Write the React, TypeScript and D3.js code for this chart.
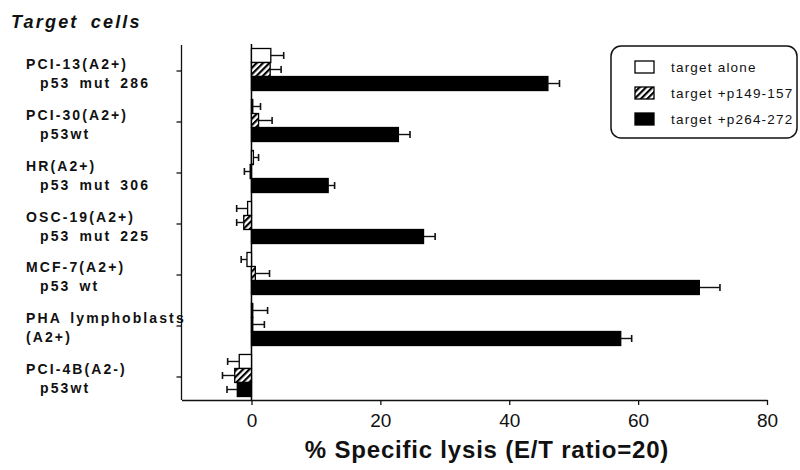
import React, { useEffect, useRef } from 'react';
import * as d3 from 'd3';

// target cell lines (two-line labels)
const cellLines = ['PCI-13(A2+)', 'PCI-30(A2+)', 'HR(A2+)', 'OSC-19(A2+)', 'MCF-7(A2+)', 'PHA lymphoblasts', 'PCI-4B(A2-)'];
const cellSubs = ['p53 mut 286', 'p53wt', 'p53 mut 306', 'p53 mut 225', 'p53 wt', '(A2+)', 'p53wt'];

const seriesNames = ['target alone', 'target +p149-157', 'target +p264-272'];

// % specific lysis, one array per series
const aloneVals = [3.0, 0.2, 0.3, -0.6, -0.7, 0.2, -1.9];
const aloneErr = [2.0, 1.2, 0.8, 1.7, 0.9, 2.3, 1.8];
const p149Vals = [2.9, 1.1, -0.2, -1.2, 0.6, 0.2, -2.6];
const p149Err = [1.7, 2.1, 0.9, 1.1, 2.2, 1.8, 1.9];
const p264Vals = [46.0, 22.8, 11.9, 26.7, 69.5, 57.3, -2.2];
const p264Err = [1.8, 1.8, 1.0, 1.8, 3.2, 1.7, 1.6];

const xTicks = [0, 20, 40, 60, 80];

const FONT = '"Liberation Sans", Arial, Helvetica, sans-serif';

const App = () => {
  const svgRef = useRef<SVGSVGElement>(null);

  useEffect(() => {
    const svg = d3.select(svgRef.current);
    const width = 800;
    const height = 470;
    svg.selectAll('*').remove();
    svg.attr('width', width).attr('height', height);

    const vals = [aloneVals, p149Vals, p264Vals];
    const errs = [aloneErr, p149Err, p264Err];
    const fills = ['#fff', 'url(#hatch)', '#000'];

    // hatch pattern
    const defs = svg.append('defs');
    const pat = defs
      .append('pattern')
      .attr('id', 'hatch')
      .attr('patternUnits', 'userSpaceOnUse')
      .attr('width', 4.5)
      .attr('height', 4.5)
      .attr('patternTransform', 'rotate(45)');
    pat.append('rect').attr('width', 4.5).attr('height', 4.5).attr('fill', '#fff');
    pat.append('line').attr('x1', 1).attr('x2', 1).attr('y1', 0).attr('y2', 4.5)
      .attr('stroke', '#000').attr('stroke-width', 2.3);

    const x = d3.scaleLinear().domain([-10.86, 80]).range([181.5, 767]);
    const y = d3.scaleBand<number>()
      .domain(d3.range(cellLines.length))
      .range([48.5, 396.5])
      .paddingInner(0.176)
      .paddingOuter(0);
    const inner = d3.scaleBand<number>().domain([0, 1, 2]).range([0, y.bandwidth()]);

    // bottom axis
    const xAxis = d3.axisBottom(x).tickValues(xTicks).tickSize(5).tickSizeOuter(0).tickPadding(9)
      .tickFormat((d) => String(d));
    const gx = svg.append('g').attr('transform', 'translate(0,400)').call(xAxis);
    gx.select('.domain').attr('stroke', '#111').attr('stroke-width', 1.3);
    gx.selectAll('.tick line').attr('stroke', '#111').attr('stroke-width', 1.3);
    gx.selectAll('.tick text')
      .attr('font-family', FONT)
      .attr('font-size', 19)
      .attr('fill', '#111');

    // left axis
    const yAxis = d3.axisLeft(y).tickSize(5).tickFormat(() => '');
    const gy = svg.append('g').attr('transform', 'translate(181.5,1.5)').call(yAxis);
    gy.select('.domain').remove();
    gy.selectAll('.tick line').attr('stroke', '#111').attr('stroke-width', 1.3);
    svg.append('line')
      .attr('x1', 181.5).attr('x2', 181.5).attr('y1', 45).attr('y2', 400)
      .attr('stroke', '#111').attr('stroke-width', 1.3);

    // zero line
    svg.append('line')
      .attr('x1', x(0)).attr('x2', x(0)).attr('y1', 44).attr('y2', 400)
      .attr('stroke', '#000').attr('stroke-width', 1.5);

    // bars + error bars
    const barsG = svg.append('g');
    cellLines.forEach((_, i) => {
      vals.forEach((series, s) => {
        const v = series[i];
        const e = errs[s][i];
        const y0 = (y(i) as number) + (inner(s) as number);
        const h = inner.bandwidth();
        barsG.append('rect')
          .attr('x', x(Math.min(0, v)))
          .attr('y', y0)
          .attr('width', Math.abs(x(v) - x(0)))
          .attr('height', h)
          .attr('fill', fills[s])
          .attr('stroke', '#000')
          .attr('stroke-width', 1.3);
        const end = v >= 0 ? v + e : v - e;
        const cy = y0 + h / 2;
        barsG.append('line')
          .attr('x1', x(v)).attr('x2', x(end)).attr('y1', cy).attr('y2', cy)
          .attr('stroke', '#111').attr('stroke-width', 1.4);
        barsG.append('line')
          .attr('x1', x(end)).attr('x2', x(end)).attr('y1', cy - 3.5).attr('y2', cy + 3.5)
          .attr('stroke', '#111').attr('stroke-width', 1.6);
      });
    });

    // category labels
    const labG = svg.append('g')
      .attr('font-family', FONT)
      .attr('font-weight', 'bold')
      .attr('font-size', 14)
      .attr('letter-spacing', 2.1)
      .attr('word-spacing', 3)
      .attr('fill', '#111');
    cellLines.forEach((name, i) => {
      const c = (y(i) as number) + y.bandwidth() / 2;
      labG.append('text').attr('x', 26).attr('y', c - 1).text(name);
      const sub = cellSubs[i];
      labG.append('text')
        .attr('x', sub.startsWith('(') ? 26 : 40)
        .attr('y', c + 18)
        .text(sub);
    });

    // title
    svg.append('text')
      .attr('x', 11).attr('y', 28)
      .attr('font-family', FONT)
      .attr('font-weight', 'bold')
      .attr('font-style', 'italic')
      .attr('font-size', 18)
      .attr('letter-spacing', 2.2)
      .attr('word-spacing', 5)
      .attr('fill', '#111')
      .text('Target cells');

    // x axis title
    svg.append('text')
      .attr('x', 487).attr('y', 458)
      .attr('text-anchor', 'middle')
      .attr('font-family', FONT)
      .attr('font-weight', 'bold')
      .attr('font-size', 24)
      .attr('letter-spacing', 0.8)
      .attr('fill', '#111')
      .text('% Specific lysis (E/T ratio=20)');

    // legend
    const lg = svg.append('g');
    lg.append('rect')
      .attr('x', 611).attr('y', 46).attr('width', 186).attr('height', 92)
      .attr('rx', 10).attr('fill', '#fff').attr('stroke', '#111').attr('stroke-width', 1.5);
    seriesNames.forEach((name, s) => {
      const ly = 61 + s * 26;
      lg.append('rect')
        .attr('x', 635).attr('y', ly).attr('width', 19).attr('height', 12)
        .attr('fill', fills[s]).attr('stroke', '#000').attr('stroke-width', 1.3);
      lg.append('text')
        .attr('x', 671).attr('y', ly + 10.5)
        .attr('font-family', FONT)
        .attr('font-size', 13.5)
        .attr('letter-spacing', 1.2)
        .attr('fill', '#111')
        .text(name);
    });
  }, []);

  return (
    <div>
      <svg ref={svgRef} style={{ position: 'absolute', left: 0, top: 0, background: '#fff' }} />
    </div>
  );
};

export default App;
